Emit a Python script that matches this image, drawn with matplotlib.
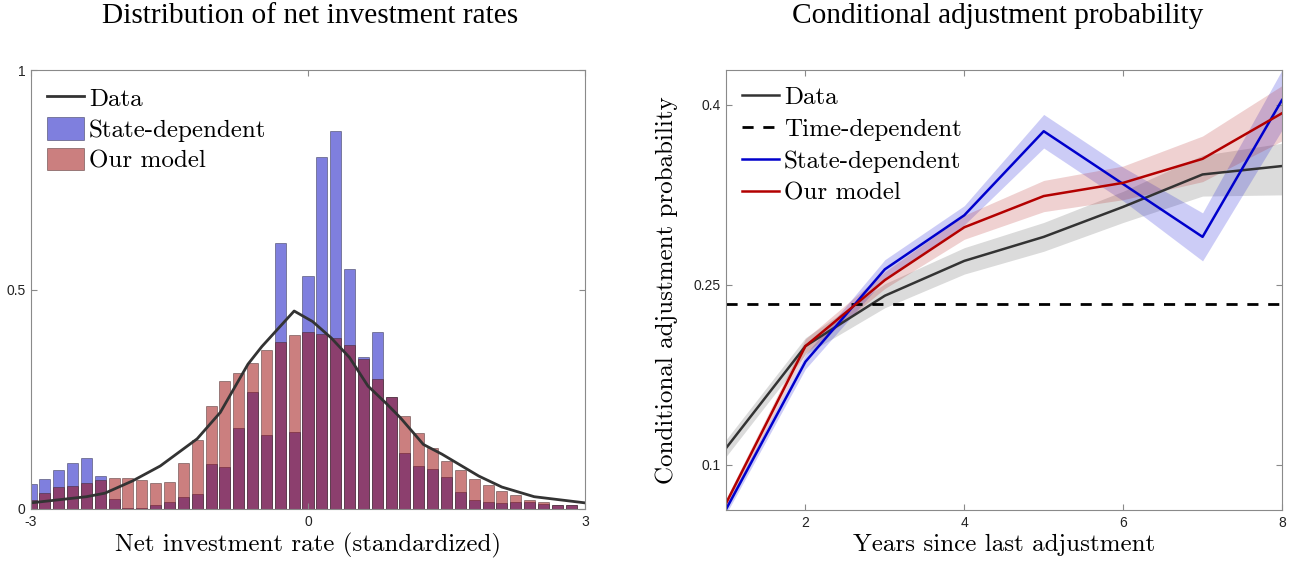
import matplotlib
matplotlib.use("Agg")
import matplotlib.pyplot as plt
import numpy as np

# --- left panel: histogram of standardized net investment rates ---
bin_centers = np.round(np.arange(-3.0, 2.9, 0.15), 2)
state_dep = [0.057, 0.069, 0.088, 0.105, 0.117, 0.076, 0.023, 0.003, 0.002, 0.008,
             0.016, 0.027, 0.035, 0.103, 0.096, 0.185, 0.267, 0.169, 0.605, 0.176,
             0.531, 0.802, 0.860, 0.546, 0.346, 0.404, 0.254, 0.128, 0.098, 0.090,
             0.072, 0.039, 0.021, 0.015, 0.014, 0.016, 0.015, 0.012, 0.010, 0.008]
our_model = [0.021, 0.037, 0.050, 0.053, 0.059, 0.065, 0.071, 0.071, 0.066, 0.060,
             0.061, 0.104, 0.157, 0.235, 0.291, 0.310, 0.333, 0.362, 0.380, 0.397,
             0.403, 0.398, 0.389, 0.374, 0.342, 0.297, 0.256, 0.212, 0.172, 0.138,
             0.109, 0.088, 0.069, 0.054, 0.040, 0.031, 0.021, 0.015, 0.010, 0.008]
dens_x = [-3.0, -2.7, -2.4, -2.2, -1.9, -1.6, -1.2, -0.95, -0.65, -0.5, -0.15, 0.05,
          0.25, 0.45, 0.65, 0.85, 1.0, 1.25, 1.45, 1.65, 1.85, 2.1, 2.45, 3.0]
dens_y = [0.014, 0.021, 0.028, 0.036, 0.064, 0.098, 0.16, 0.22, 0.33, 0.37, 0.451, 0.427,
          0.39, 0.345, 0.28, 0.24, 0.208, 0.147, 0.125, 0.10, 0.075, 0.05, 0.028, 0.014]

# --- right panel: hazard of adjustment by years since last adjustment ---
years = [1, 2, 3, 4, 5, 6, 7, 8]
data_prob = [0.114, 0.199, 0.241, 0.270, 0.290, 0.315, 0.342, 0.349]
data_lo = [0.107, 0.192, 0.231, 0.259, 0.278, 0.302, 0.324, 0.325]
data_hi = [0.121, 0.206, 0.251, 0.281, 0.302, 0.328, 0.358, 0.368]
time_dep = 0.234
state_prob = [0.063, 0.186, 0.263, 0.308, 0.378, 0.334, 0.290, 0.404]
state_se = [0.004, 0.006, 0.008, 0.008, 0.014, 0.014, 0.020, 0.025]
our_prob = [0.068, 0.199, 0.254, 0.298, 0.324, 0.335, 0.355, 0.393]
our_se = [0.004, 0.006, 0.007, 0.010, 0.013, 0.014, 0.019, 0.023]

CM = "cmr10"
TITLE = ["Liberation Serif", "DejaVu Serif"]
TICK = "Liberation Sans"
AXC = "#8a8a8a"

fig = plt.figure(figsize=(12.95, 5.62), dpi=100)


def style_axes(ax):
    for s in ax.spines.values():
        s.set_color(AXC)
        s.set_linewidth(0.8)
    ax.tick_params(direction="in", length=4, width=0.8, color=AXC,
                   top=True, right=True, labelsize=10, pad=4)
    for lab in ax.get_xticklabels() + ax.get_yticklabels():
        lab.set_fontfamily(TICK)
        lab.set_color("#222222")


# left
ax1 = fig.add_axes([31 / 1295, 53 / 562, 554 / 1295, 439 / 562])
w = 0.12
b1 = ax1.bar(bin_centers, state_dep, width=w, color=(0, 0, 0.75), alpha=0.5,
             edgecolor=(0.1, 0.1, 0.2), linewidth=0.6, label="State-dependent")
b2 = ax1.bar(bin_centers, our_model, width=w, color=(0.6, 0, 0), alpha=0.5,
             edgecolor=(0.2, 0.1, 0.1), linewidth=0.6, label="Our model")
l1, = ax1.plot(dens_x, dens_y, color="#333333", lw=2.0, label="Data")
ax1.set_xlim(-3, 3)
ax1.set_ylim(0, 1)
ax1.set_xticks([-3, 0, 3])
ax1.set_xticklabels(["-3", "0", "3"])
ax1.set_yticks([0, 0.5, 1])
ax1.set_yticklabels(["0", "0.5", "1"])
style_axes(ax1)
ax1.set_xlabel("Net investment rate (standardized)", fontfamily=CM, fontsize=18, labelpad=3)
ax1.legend(handles=[l1, b1, b2], loc="upper left", bbox_to_anchor=(0.01, 0.985),
           frameon=False, prop={"family": CM, "size": 18}, handlelength=1.5,
           handleheight=1.0, handletextpad=0.2, labelspacing=0.24, borderaxespad=0.0)
fig.text(310 / 1295, 1 - 16 / 562, "Distribution of net investment rates",
         ha="center", va="center", fontfamily=TITLE, fontsize=21.2)

# right
ax2 = fig.add_axes([726 / 1295, 52 / 562, 556 / 1295, 440 / 562])
ax2.fill_between(years, data_lo, data_hi, color="#888888", alpha=0.3, lw=0)
ax2.fill_between(years, np.array(state_prob) - state_se, np.array(state_prob) + state_se,
                 color=(0.1, 0.1, 0.85), alpha=0.22, lw=0)
ax2.fill_between(years, np.array(our_prob) - our_se, np.array(our_prob) + our_se,
                 color=(0.7, 0.1, 0.1), alpha=0.2, lw=0)
r1, = ax2.plot(years, data_prob, color="#333333", lw=1.8, label="Data")
r2 = ax2.axhline(time_dep, color="black", lw=2.0, ls=(0, (4, 3.5)), label="Time-dependent")
r3, = ax2.plot(years, state_prob, color=(0, 0, 0.8), lw=1.8, label="State-dependent")
r4, = ax2.plot(years, our_prob, color=(0.7, 0, 0), lw=1.8, label="Our model")
ax2.set_xlim(1, 8)
ax2.set_ylim(0.0625, 0.429)
ax2.set_xticks([2, 4, 6, 8])
ax2.set_xticklabels(["2", "4", "6", "8"])
ax2.set_yticks([0.1, 0.25, 0.4])
ax2.set_yticklabels(["0.1", "0.25", "0.4"])
style_axes(ax2)
ax2.set_xlabel("Years since last adjustment", fontfamily=CM, fontsize=18, labelpad=3)
ax2.set_ylabel("Conditional adjustment probability", fontfamily=CM, fontsize=18, labelpad=11)
ax2.legend(handles=[r1, r2, r3, r4], loc="upper left", bbox_to_anchor=(0.01, 0.985),
           frameon=False, prop={"family": CM, "size": 18}, handlelength=1.5,
           handletextpad=0.2, labelspacing=0.37, borderaxespad=0.0)
fig.text(998 / 1295, 1 - 16 / 562, "Conditional adjustment probability",
         ha="center", va="center", fontfamily=TITLE, fontsize=21.2)

fig.savefig("out.png", dpi=100)
